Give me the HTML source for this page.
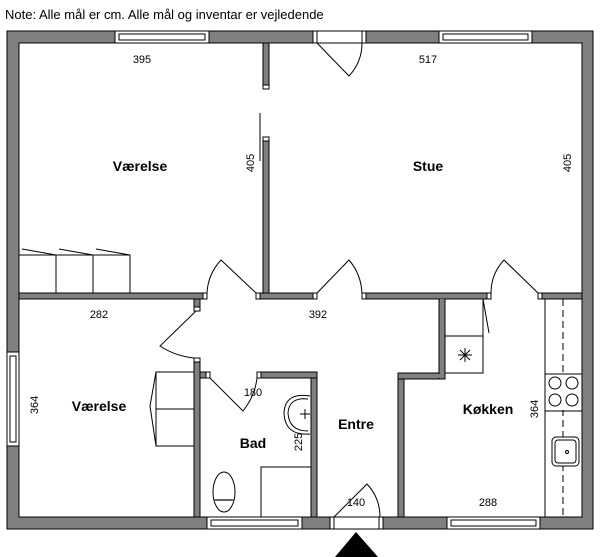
<!DOCTYPE html>
<html><head><meta charset="utf-8"><style>
html,body{margin:0;padding:0;background:#fff;}
svg{display:block;}
text{font-family:"Liberation Sans","DejaVu Sans",sans-serif;fill:#000;}
.w{fill:#808080;stroke:#000;stroke-width:1;}
.j{fill:#fff;stroke:#000;stroke-width:1;}
.l{fill:none;stroke:#000;stroke-width:1;}
.n{font-size:11px;}
.b{font-size:14px;font-weight:bold;}
</style></head><body>
<svg width="600" height="557" viewBox="0 0 600 557" xmlns="http://www.w3.org/2000/svg">
<text x="5" y="19" style="font-size:13px">Note: Alle mål er cm. Alle mål og inventar er vejledende</text>

<!-- outer walls -->
<path class="w" d="M7,31 H593 V529 H7 Z M19,43 V517 H582 V43 Z" fill-rule="evenodd"/>
<!-- top openings -->
<rect class="j" x="115" y="31" width="94" height="12"/>
<rect class="l" x="119" y="34" width="86" height="6"/>
<rect class="j" x="313" y="31" width="53" height="12"/>
<line class="l" x1="317" y1="31" x2="317" y2="43"/><line class="l" x1="362" y1="31" x2="362" y2="43"/>
<rect class="j" x="439" y="31" width="93" height="12"/>
<rect class="l" x="443" y="34" width="85" height="6"/>
<path class="l" d="M317,43 L349,76 Q362,62 362,43"/>
<!-- left window -->
<rect class="j" x="7" y="352" width="12" height="94"/>
<rect class="l" x="10" y="356" width="6" height="86"/>
<!-- bottom openings -->
<rect class="j" x="207" y="517" width="95" height="12"/>
<rect class="l" x="211" y="520" width="87" height="6"/>
<rect class="j" x="330" y="517" width="53" height="12"/>
<line class="l" x1="334" y1="517" x2="334" y2="529"/><line class="l" x1="379" y1="517" x2="379" y2="529"/>
<rect class="j" x="447" y="517" width="93" height="12"/>
<rect class="l" x="451" y="520" width="85" height="6"/>
<path class="l" d="M334,517 L367,484 Q380,498 380,517"/>
<polygon points="356,532 335,557 378,557" fill="#000"/>

<!-- interior vertical wall upper -->
<rect class="w" x="263" y="43" width="6" height="45"/>
<rect class="j" x="263" y="85" width="6" height="4"/>
<line class="l" x1="260" y1="113" x2="260" y2="161"/>
<rect class="w" x="263" y="137" width="6" height="156"/>
<rect class="j" x="263" y="137" width="6" height="4"/>

<!-- horizontal wall y293-299 -->
<rect class="w" x="19" y="293" width="184" height="6"/>
<rect class="j" x="203" y="293" width="4" height="6"/>
<rect class="j" x="256" y="293" width="4" height="6"/>
<rect class="w" x="260" y="293" width="53" height="6"/>
<rect class="j" x="313" y="293" width="4" height="6"/>
<rect class="j" x="362" y="293" width="4" height="6"/>
<rect class="w" x="366" y="293" width="121" height="6"/>
<rect class="j" x="487" y="293" width="4" height="6"/>
<rect class="j" x="538" y="293" width="4" height="6"/>
<rect class="w" x="542" y="293" width="40" height="6"/>
<!-- doors on that wall -->
<path class="l" d="M256,293 L221,260 Q208,274 207,293"/>
<path class="l" d="M317,293 L349,260 Q361,274 362,293"/>
<path class="l" d="M538,293 L504,260 Q491,274 491,293"/>

<!-- vertical wall between lower Værelse and hall -->
<rect class="w" x="194" y="299" width="6" height="11"/>
<rect class="j" x="194" y="307" width="6" height="4"/>
<rect class="w" x="194" y="358" width="6" height="159"/>
<rect class="j" x="194" y="358" width="6" height="4"/>
<path class="l" d="M196,311 L160,346 Q175,356 194,358"/>

<!-- bathroom walls -->
<rect class="w" x="200" y="372" width="6" height="6"/>
<rect class="j" x="206" y="372" width="4" height="6"/>
<rect class="j" x="257" y="372" width="4" height="6"/>
<rect class="w" x="261" y="372" width="56" height="6"/>
<rect class="w" x="311" y="378" width="6" height="139"/>
<path class="l" d="M210,378 L243,411 Q255,396 257,378"/>

<!-- entre/kitchen walls -->
<rect class="w" x="398" y="373" width="6" height="144"/>
<rect class="w" x="398" y="373" width="47" height="6"/>
<rect class="w" x="439" y="299" width="6" height="80"/>
<rect x="399" y="374" width="45" height="4" fill="#808080"/>
<rect x="440" y="299" width="4" height="79" fill="#808080"/>

<!-- wardrobes upper Værelse -->
<rect class="l" x="19" y="255" width="37" height="38"/>
<rect class="l" x="56" y="255" width="37" height="38"/>
<rect class="l" x="93" y="255" width="37" height="38"/>
<line class="l" x1="22" y1="249" x2="56" y2="255"/>
<line class="l" x1="59" y1="249" x2="93" y2="255"/>
<line class="l" x1="96" y1="249" x2="130" y2="255"/>

<!-- bed lower Værelse -->
<rect class="l" x="156" y="372" width="38" height="37"/>
<rect class="l" x="156" y="409" width="38" height="37"/>
<polyline class="l" points="156,372 150,406 156,446"/>

<!-- bathroom fixtures -->
<path class="l" d="M310,396 Q285,392 284,413 Q285,436 310,434"/>
<path class="l" d="M308,399 Q289,397 288,413 Q289,431 308,431"/>
<line class="l" x1="300" y1="414" x2="310" y2="414"/>
<line class="l" x1="305" y1="409" x2="305" y2="419"/>
<rect class="l" x="261" y="467" width="50" height="50"/>
<ellipse class="l" cx="224" cy="492" rx="11" ry="20"/>
<line x1="214" y1="500" x2="234" y2="500" stroke="#666" stroke-width="2"/>

<!-- kitchen -->
<rect class="l" x="445" y="299" width="38" height="37"/>
<rect class="l" x="445" y="336" width="38" height="37"/>
<line class="l" x1="483" y1="299" x2="489" y2="333"/>
<g class="l"><line x1="458" y1="355" x2="472" y2="355"/><line x1="465" y1="348" x2="465" y2="362"/><line x1="460" y1="350" x2="470" y2="360"/><line x1="470" y1="350" x2="460" y2="360"/></g>
<rect class="l" x="545" y="299" width="37" height="218"/>
<line class="l" x1="563" y1="299" x2="563" y2="517" stroke-dasharray="7,4"/>
<line class="l" x1="545" y1="374" x2="582" y2="374"/>
<line class="l" x1="545" y1="411" x2="582" y2="411"/>
<rect x="546" y="375" width="35" height="35" fill="#fff"/>
<circle class="l" cx="555" cy="383" r="6"/><circle class="l" cx="572" cy="383" r="6"/>
<circle class="l" cx="555" cy="400" r="6"/><circle class="l" cx="572" cy="400" r="6"/>
<rect class="j" x="552" y="437" width="27" height="29" rx="4"/>
<rect class="l" x="555" y="440" width="21" height="23" rx="3"/>
<circle class="l" cx="567" cy="452" r="1.5"/>

<!-- labels -->
<text class="n" x="142" y="63" text-anchor="middle">395</text>
<text class="n" x="428" y="63" text-anchor="middle">517</text>
<text class="b" x="140" y="171" text-anchor="middle">Værelse</text>
<text class="b" x="428" y="171" text-anchor="middle">Stue</text>
<text class="n" transform="translate(254,163) rotate(-90)" text-anchor="middle">405</text>
<text class="n" transform="translate(571,163) rotate(-90)" text-anchor="middle">405</text>
<text class="n" x="99" y="318" text-anchor="middle">282</text>
<text class="n" x="318" y="318" text-anchor="middle">392</text>
<text class="b" x="99" y="411" text-anchor="middle">Værelse</text>
<text class="n" transform="translate(38,405) rotate(-90)" text-anchor="middle">364</text>
<text class="n" x="253" y="396" text-anchor="middle">180</text>
<text class="b" x="253" y="448" text-anchor="middle">Bad</text>
<text class="n" transform="translate(302,442) rotate(-90)" text-anchor="middle">225</text>
<text class="b" x="356" y="429" text-anchor="middle">Entre</text>
<text class="b" x="488" y="414" text-anchor="middle">Køkken</text>
<text class="n" transform="translate(538,409) rotate(-90)" text-anchor="middle">364</text>
<text class="n" x="356" y="506" text-anchor="middle">140</text>
<text class="n" x="488" y="506" text-anchor="middle">288</text>
</svg>
</body></html>
